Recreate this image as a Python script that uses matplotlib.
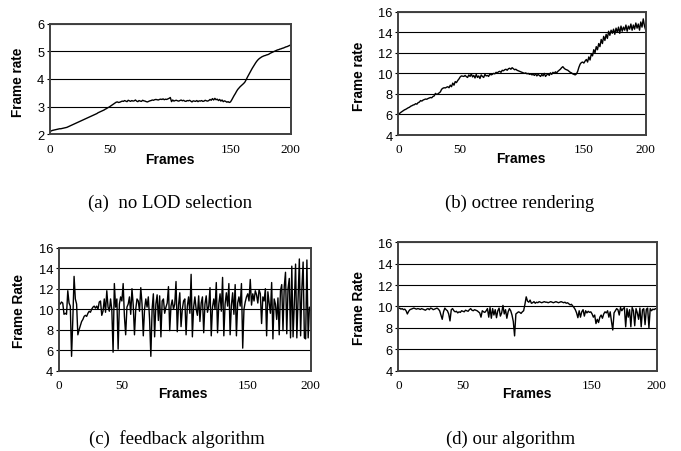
import matplotlib
matplotlib.use("Agg")
import matplotlib.pyplot as plt

# frame rate per frame (0..200)
no_lod = [
    2.10, 2.12, 2.14, 2.15, 2.16, 2.17, 2.18, 2.19, 2.20, 2.20,
    2.21, 2.22, 2.23, 2.24, 2.25, 2.27, 2.29, 2.31, 2.33, 2.35,
    2.37, 2.39, 2.41, 2.43, 2.45, 2.47, 2.49, 2.51, 2.53, 2.55,
    2.57, 2.59, 2.61, 2.63, 2.65, 2.67, 2.69, 2.71, 2.73, 2.75,
    2.78, 2.80, 2.82, 2.84, 2.86, 2.88, 2.91, 2.93, 2.96, 2.98,
    3.01, 3.04, 3.07, 3.10, 3.13, 3.16, 3.17, 3.15, 3.16, 3.18,
    3.20, 3.19, 3.22, 3.20, 3.18, 3.23, 3.21, 3.19, 3.22, 3.20,
    3.21, 3.24, 3.20, 3.18, 3.22, 3.20, 3.19, 3.23, 3.21, 3.20,
    3.18, 3.17, 3.19, 3.21, 3.22, 3.24, 3.23, 3.25, 3.26, 3.25,
    3.24, 3.26, 3.27, 3.26, 3.28, 3.25, 3.27, 3.26, 3.28, 3.30,
    3.33, 3.18, 3.24, 3.20, 3.22, 3.23, 3.21, 3.20, 3.22, 3.24,
    3.21, 3.23, 3.20, 3.19, 3.22, 3.21, 3.23, 3.20, 3.17, 3.21,
    3.20, 3.19, 3.22, 3.18, 3.21, 3.20, 3.22, 3.19, 3.20, 3.23,
    3.21, 3.20, 3.22, 3.26, 3.23, 3.29, 3.24, 3.30, 3.25, 3.27,
    3.22, 3.26, 3.20, 3.24, 3.18, 3.21, 3.19, 3.16, 3.18, 3.15,
    3.17, 3.24, 3.32, 3.40, 3.47, 3.55, 3.62, 3.67, 3.72, 3.76,
    3.80, 3.84, 3.89, 3.97, 4.06, 4.14, 4.22, 4.30, 4.38, 4.45,
    4.52, 4.59, 4.65, 4.70, 4.74, 4.77, 4.80, 4.82, 4.84, 4.85,
    4.87, 4.88, 4.90, 4.93, 4.95, 4.97, 4.99, 5.01, 5.03, 5.05,
    5.06, 5.08, 5.09, 5.11, 5.12, 5.14, 5.16, 5.17, 5.19, 5.21,
    5.23,
]

octree = [
    6.05, 6.10, 6.20, 6.28, 6.35, 6.45, 6.50, 6.58, 6.65, 6.70,
    6.80, 6.85, 6.92, 6.95, 7.05, 7.00, 7.15, 7.20, 7.35, 7.30,
    7.40, 7.45, 7.50, 7.48, 7.55, 7.60, 7.65, 7.62, 7.75, 7.80,
    8.05, 7.95, 8.00, 8.10, 8.20, 8.45, 8.55, 8.60, 8.58, 8.65,
    8.70, 8.60, 8.85, 8.70, 9.05, 8.85, 9.20, 9.10, 9.30, 9.45,
    9.65, 9.75, 9.72, 9.70, 9.80, 9.68, 9.60, 9.85, 9.70, 9.95,
    9.65, 9.80, 9.55, 9.90, 9.60, 9.75, 9.50, 9.85, 9.70, 9.60,
    9.90, 9.75, 9.80, 9.70, 9.95, 9.85, 9.90, 10.00, 9.95, 10.10,
    10.05, 10.15, 10.20, 10.10, 10.30, 10.25, 10.35, 10.40, 10.30, 10.45,
    10.50, 10.40, 10.55, 10.45, 10.35, 10.40, 10.30, 10.25, 10.20, 10.15,
    10.10, 10.05, 10.00, 10.05, 9.95, 10.00, 9.90, 9.95, 9.85, 9.90,
    9.80, 9.95, 9.75, 9.90, 9.80, 9.70, 9.90, 9.75, 10.00, 9.70,
    9.85, 9.95, 9.80, 10.05, 9.90, 10.10, 10.00, 10.15, 10.05, 10.20,
    10.30, 10.40, 10.55, 10.65, 10.50, 10.40, 10.35, 10.30, 10.20, 10.10,
    10.05, 9.95, 9.90, 9.85, 9.95, 10.20, 10.60, 10.90, 11.05, 11.10,
    11.00, 11.20, 11.35, 11.10, 11.60, 11.30, 11.90, 11.70, 12.30, 12.00,
    12.60, 12.30, 12.90, 12.60, 13.30, 12.90, 13.60, 13.20, 13.80, 13.40,
    14.10, 13.70, 14.20, 13.90, 14.30, 13.80, 14.40, 14.00, 14.50, 13.90,
    14.60, 14.10, 14.50, 14.20, 14.70, 14.10, 14.60, 14.30, 14.80, 14.20,
    14.70, 14.30, 14.90, 14.40, 14.80, 14.20, 15.00, 14.50, 15.30, 14.60,
    14.20,
]

feedback = [
    10.6, 10.5, 10.7, 10.6, 9.5, 9.6, 9.5, 11.8, 10.6, 10.3,
    5.4, 9.0, 13.2, 11.0, 10.5, 7.5, 8.0, 8.4, 8.8, 9.0,
    9.3, 9.4, 9.3, 9.6, 9.8, 9.7, 10.0, 10.2, 10.3, 10.1,
    10.3, 10.0, 10.7, 10.8, 9.4, 9.8, 11.0, 9.7, 11.8, 10.2,
    9.8, 11.0, 9.9, 5.8, 12.5, 10.2, 11.0, 6.1, 10.5, 11.2,
    10.8, 12.5, 9.3, 7.5, 10.2, 10.5, 11.2, 9.5, 12.0, 10.4,
    7.5, 10.0, 11.0, 10.8, 9.8, 12.1, 10.5, 7.4, 10.0, 11.0,
    10.2, 11.2, 9.0, 5.4, 10.0, 11.5, 7.3, 10.5, 11.4, 8.9,
    11.3, 7.3, 10.8, 11.0, 9.6, 10.2, 10.6, 12.2, 7.9, 10.3,
    10.9, 10.0, 10.5, 12.7, 7.8, 10.4, 11.6, 8.3, 10.0, 10.8,
    11.0, 7.5, 10.3, 11.2, 9.6, 13.4, 7.3, 10.2, 11.2, 10.0,
    9.4, 11.3, 8.8, 10.6, 11.2, 7.7, 10.5, 11.3, 9.7, 10.3,
    12.1, 7.4, 10.2, 11.0, 10.0, 12.6, 7.7, 10.5, 11.5, 9.8,
    13.1, 7.4, 10.5, 11.6, 10.3, 12.5, 7.5, 10.4, 11.6, 9.5,
    12.4, 7.4, 10.6, 11.2, 10.3, 12.5, 6.2, 10.0, 10.7, 11.2,
    11.5, 10.8, 12.9, 10.4, 11.5, 10.8, 11.8, 11.4, 10.6, 11.9,
    11.5, 8.6, 11.2, 10.8, 12.0, 7.4, 11.7, 10.6, 9.6, 12.6,
    7.1, 11.0, 10.5, 9.0, 11.1, 7.5, 11.8, 12.4, 7.9, 12.2,
    13.6, 7.6, 12.0, 13.0, 7.2, 14.2, 7.3, 10.5, 14.4, 7.2,
    11.0, 14.9, 7.4, 12.0, 14.6, 7.2, 7.1, 14.8, 7.2, 10.2,
    9.9,
]

ours = [
    9.80, 9.85, 9.75, 9.80, 9.70, 9.75, 9.60, 9.30, 9.55, 9.70,
    9.75, 9.80, 9.85, 9.80, 9.75, 9.80, 9.78, 9.72, 9.80, 9.75,
    9.70, 9.65, 9.75, 9.80, 9.70, 9.85, 9.80, 9.70, 9.75, 9.80,
    9.85, 9.75, 9.60, 9.20, 8.80, 9.50, 9.85, 9.70, 9.60, 9.30,
    8.65, 9.70, 9.80, 9.60, 9.50, 9.55, 9.40, 9.50, 9.45, 9.60,
    9.55, 9.50, 9.65, 9.60, 9.55, 9.70, 9.80, 9.65, 9.60, 9.70,
    9.65, 9.60, 9.50, 9.40, 9.00, 9.60, 9.50, 9.45, 9.60, 9.80,
    9.00, 9.90, 8.90, 9.80, 9.20, 9.70, 8.95, 9.60, 9.85, 9.10,
    9.40, 10.10, 9.30, 9.70, 8.90, 9.50, 9.80, 9.60, 9.20, 8.60,
    7.25, 9.30, 9.40, 9.50, 9.45, 9.35, 9.50, 9.60, 10.20, 10.90,
    10.50, 10.40, 10.60, 10.30, 10.35, 10.45, 10.30, 10.40, 10.35, 10.45,
    10.40, 10.35, 10.40, 10.45, 10.40, 10.40, 10.35, 10.40, 10.45, 10.40,
    10.35, 10.40, 10.45, 10.40, 10.35, 10.40, 10.45, 10.40, 10.35, 10.40,
    10.30, 10.35, 10.25, 10.15, 10.20, 10.05, 9.90, 9.70, 9.40, 8.95,
    9.60, 9.00, 9.50, 9.70, 9.10, 9.60, 9.40, 9.55, 9.45, 9.50,
    9.30, 9.00, 9.20, 8.40, 8.80, 8.50, 9.00, 9.20, 8.90, 9.30,
    9.50, 9.40, 9.60, 9.00, 9.50, 8.60, 7.80, 9.40, 9.60, 9.80,
    9.70, 9.20, 9.90, 9.60, 9.80, 9.90, 8.10, 9.80, 9.00, 9.70,
    8.10, 9.90, 9.60, 8.20, 9.80, 9.40, 8.80, 9.85, 8.10, 9.70,
    9.80, 8.30, 9.75, 9.85, 8.00, 9.80, 9.60, 9.75, 9.70, 9.80,
    9.75,
]

frames = list(range(len(no_lod)))
xtick_vals = [0, 50, 150, 200]

panels = [
    # data, rect, ylim, yticks, ylabel, (ylabel xy), (frames xy), caption, (caption xy)
    (no_lod, [0.0734, 0.7007, 0.3534, 0.2447], (2, 6), [2, 3, 4, 5, 6], "Frame rate",
     (18, 82), (169.5, 164), "(a)  no LOD selection", (170, 208)),
    (octree, [0.5849, 0.6991, 0.3633, 0.2728], (4, 16), [4, 6, 8, 10, 12, 14, 16], "Frame rate",
     (358.7, 76.3), (520.8, 163.3), "(b) octree rendering", (520, 208)),
    (feedback, [0.0866, 0.1777, 0.3696, 0.2721], (4, 16), [4, 6, 8, 10, 12, 14, 16], "Frame Rate",
     (18.7, 311), (182.8, 398.3), "(c)  feedback algorithm", (176.7, 444)),
    (ours, [0.5849, 0.1777, 0.3794, 0.2841], (4, 16), [4, 6, 8, 10, 12, 14, 16], "Frame Rate",
     (358.7, 308.3), (526.7, 398.3), "(d) our algorithm", (510.8, 444)),
]

W, H = 681, 452
fig = plt.figure(figsize=(W / 100, H / 100), dpi=100)

for data, rect, ylim, yticks, ylab, ylab_xy, fr_xy, cap, cap_xy in panels:
    ax = fig.add_axes(rect)
    ax.plot(frames, data, color="black", lw=1.0)
    ax.set_xlim(0, 200)
    ax.set_ylim(*ylim)
    ax.set_xticks(xtick_vals)
    ax.set_xticklabels([str(v) for v in xtick_vals], family="Liberation Serif", fontsize=9.5)
    ax.set_yticks(yticks)
    ax.set_yticklabels([str(v) for v in yticks], family="Liberation Sans", fontsize=9.3)
    ax.tick_params(axis="x", length=0, pad=6)
    ax.tick_params(axis="y", length=2, pad=2)
    ax.yaxis.grid(True, color="black", lw=0.8)
    ax.set_axisbelow(True)
    for sp in ax.spines.values():
        sp.set_color("#404040")
        sp.set_linewidth(1.4)

    fig.text(ylab_xy[0] / W, 1 - ylab_xy[1] / H, ylab, rotation=90, ha="center", va="center",
             family="Liberation Sans", fontweight="bold", fontsize=9.8)
    fig.text(fr_xy[0] / W, 1 - fr_xy[1] / H, "Frames", ha="center", va="baseline",
             family="Liberation Sans", fontweight="bold", fontsize=10)
    fig.text(cap_xy[0] / W, 1 - cap_xy[1] / H, cap, ha="center", va="baseline",
             family="Liberation Serif", fontsize=13.5)

fig.savefig("out.png", dpi=100)
